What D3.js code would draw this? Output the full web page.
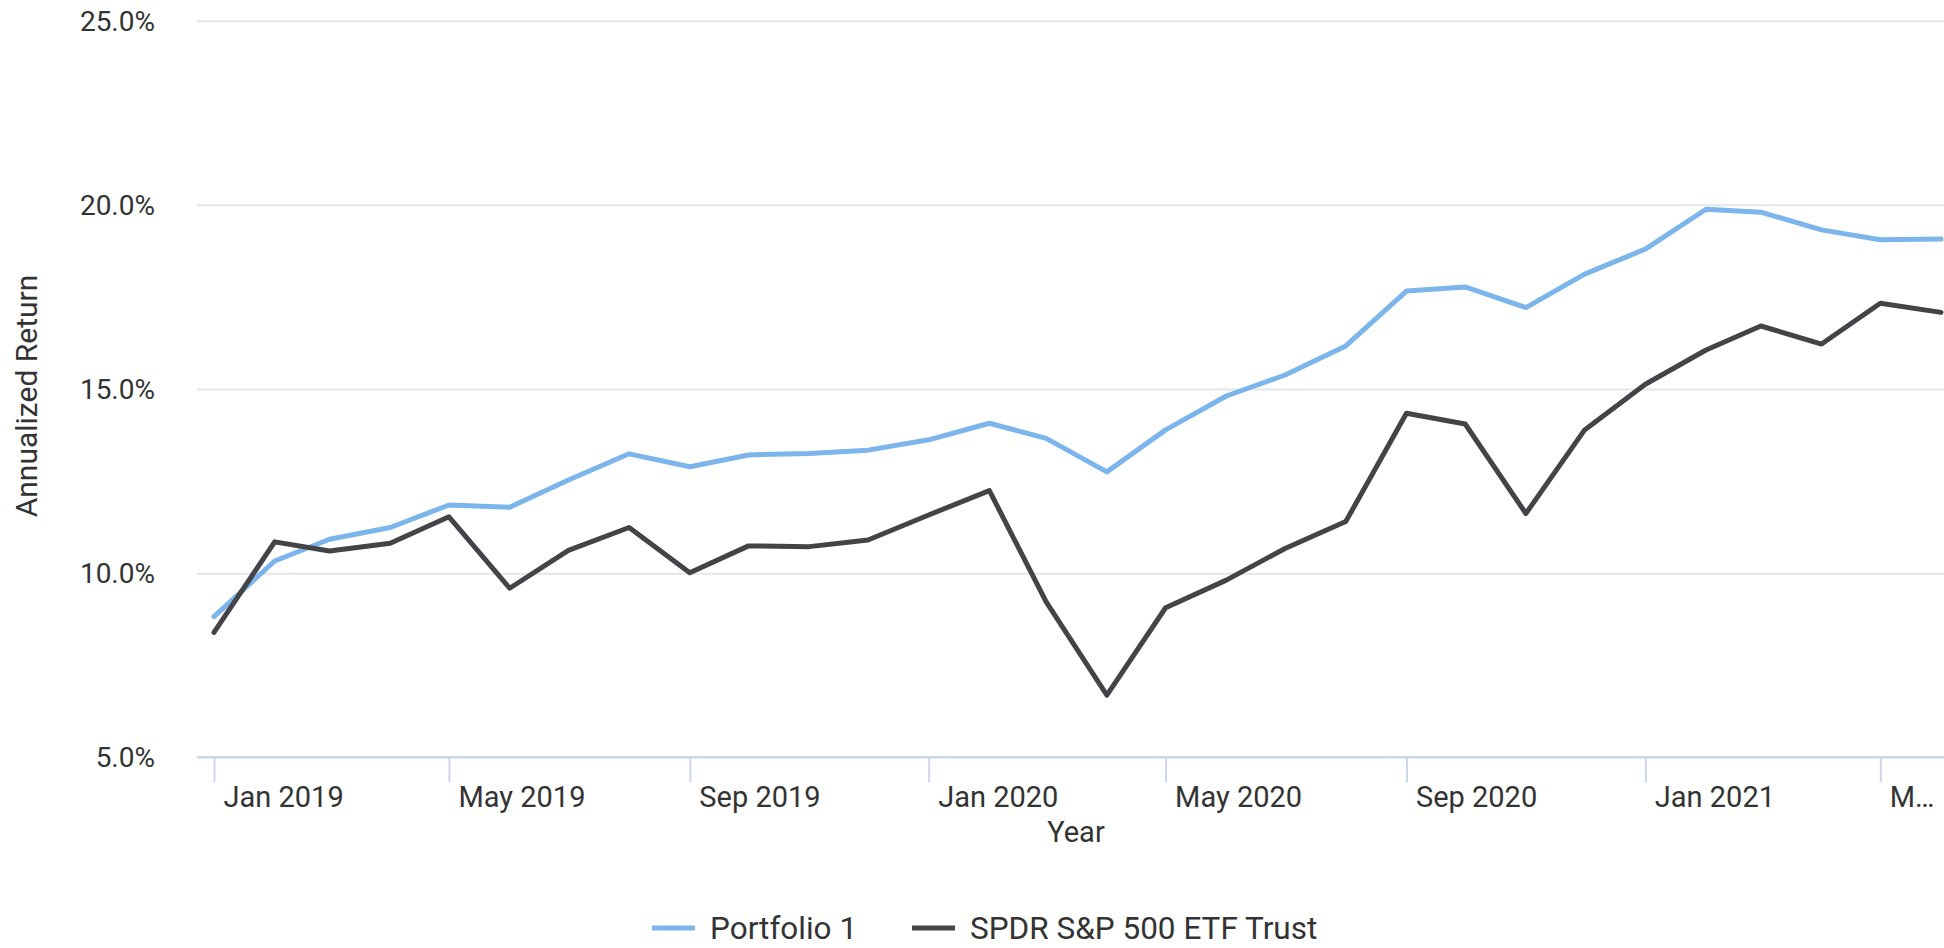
<!DOCTYPE html>
<html>
<head>
<meta charset="utf-8">
<script src="https://cdn.jsdelivr.net/npm/d3@7"></script>
<style>
  body { margin: 0; background: #fff; }
  svg { display: block; font-family: Roboto, "Noto Sans", sans-serif; }
</style>
</head>
<body>
<div class="chart"></div>
<script>
// Annualized return line chart
var months = ["2019-01", "2019-02", "2019-03", "2019-04", "2019-05", "2019-06", "2019-07", "2019-08",
  "2019-09", "2019-10", "2019-11", "2019-12", "2020-01", "2020-02", "2020-03", "2020-04", "2020-05",
  "2020-06", "2020-07", "2020-08", "2020-09", "2020-10", "2020-11", "2020-12", "2021-01", "2021-02",
  "2021-03", "2021-04", "2021-05", "2021-06"];
var portfolio1 = [8.82, 10.33, 10.92, 11.24, 11.85, 11.79, 12.53, 13.24, 12.89, 13.21, 13.25, 13.34,
  13.62, 14.07, 13.66, 12.75, 13.89, 14.81, 15.38, 16.17, 17.66, 17.77, 17.21, 18.12, 18.80, 19.88,
  19.80, 19.32, 19.05, 19.07];
var spy = [8.39, 10.85, 10.60, 10.81, 11.53, 9.59, 10.62, 11.24, 10.01, 10.74, 10.72, 10.90,
  11.58, 12.24, 9.22, 6.69, 9.06, 9.81, 10.67, 11.40, 14.34, 14.05, 11.62, 13.89, 15.13, 16.06,
  16.71, 16.22, 17.33, 17.08];
var seriesNames = ["Portfolio 1", "SPDR S&P 500 ETF Trust"];
var xTickMonths = ["2019-01", "2019-05", "2019-09", "2020-01", "2020-05", "2020-09", "2021-01", "2021-05"];
var xTickLabels = ["Jan 2019", "May 2019", "Sep 2019", "Jan 2020", "May 2020", "Sep 2020", "Jan 2021", "M\u2026"];
var yTicks = [5, 10, 15, 20, 25];

var svgWidth = 1944;
var svgHeight = 948;
var plotLeft = 197;
var plotRight = 1955; // chart runs past the right edge of the window
var colors = ["#7cb5ec", "#434348"];
var textColor = "#333333";

var parseMonth = d3.timeParse("%Y-%m");

var svg = d3.select(".chart")
  .append("svg")
  .attr("width", svgWidth)
  .attr("height", svgHeight);

var xScale = d3.scaleTime()
  .domain([parseMonth("2019-01"), parseMonth("2021-06")])
  .range([214, 1941]);
var yScale = d3.scaleLinear()
  .domain([5, 25])
  .range([757.3, 20.7]);

// gridlines + y labels
var yAxis = d3.axisLeft(yScale)
  .tickValues(yTicks)
  .tickSize(-(svgWidth - plotLeft))
  .tickFormat(function(d) { return d3.format(".1f")(d) + "%"; });
var yG = svg.append("g")
  .attr("transform", "translate(" + plotLeft + ",0)")
  .call(yAxis);
yG.select(".domain").remove();
yG.selectAll(".tick line")
  .attr("stroke", function(d) { return d === 5 ? "none" : "#e6e6e6"; })
  .attr("stroke-width", 2);
yG.selectAll(".tick text")
  .attr("x", -42)
  .attr("dy", "0.34em")
  .attr("fill", textColor)
  .attr("font-size", "28px")
  .attr("font-family", "Roboto, sans-serif");

// x axis
var xAxis = d3.axisBottom(xScale)
  .tickValues(xTickMonths.map(parseMonth))
  .tickSize(25)
  .tickFormat(function(d, i) { return xTickLabels[i]; });
var xG = svg.append("g")
  .attr("transform", "translate(0," + yScale(5) + ")")
  .call(xAxis);
xG.select(".domain").remove();
xG.append("line")
  .attr("x1", plotLeft)
  .attr("x2", svgWidth)
  .attr("stroke", "#ccd6eb")
  .attr("stroke-width", 2.5);
xG.selectAll(".tick line")
  .attr("stroke", "#ccd6eb")
  .attr("stroke-width", 2);
xG.selectAll(".tick text")
  .attr("text-anchor", "start")
  .attr("x", 9)
  .attr("y", 50)
  .attr("dy", 0)
  .attr("fill", textColor)
  .attr("font-size", "29px")
  .attr("font-family", "Roboto, sans-serif");

// axis titles
svg.append("text")
  .attr("transform", "translate(37," + ((20.7 + 757.3) / 2 + 7) + ") rotate(-90)")
  .attr("text-anchor", "middle")
  .attr("fill", textColor)
  .attr("font-size", "30px")
  .text("Annualized Return");
svg.append("text")
  .attr("x", (plotLeft + plotRight) / 2)
  .attr("y", 842)
  .attr("text-anchor", "middle")
  .attr("fill", textColor)
  .attr("font-size", "29px")
  .text("Year");

// lines
var line = d3.line()
  .x(function(d) { return xScale(d.date); })
  .y(function(d) { return yScale(d.value); });

[portfolio1, spy].forEach(function(values, s) {
  var pts = months.map(function(m, i) { return { date: parseMonth(m), value: values[i] }; });
  svg.append("path")
    .datum(pts)
    .attr("d", line)
    .attr("fill", "none")
    .attr("stroke", colors[s])
    .attr("stroke-width", 5)
    .attr("stroke-linejoin", "round")
    .attr("stroke-linecap", "round");
});

// legend (kept just inside the bottom edge)
var legendX = [652, 912];
seriesNames.forEach(function(name, s) {
  var g = svg.append("g").attr("transform", "translate(" + legendX[s] + ",928)");
  g.append("line")
    .attr("x1", 0)
    .attr("x2", 43)
    .attr("stroke", colors[s])
    .attr("stroke-width", 5);
  g.append("text")
    .attr("x", 58)
    .attr("y", 11)
    .attr("fill", textColor)
    .attr("font-size", "31.5px")
    .text(name);
});
</script>
</body>
</html>
